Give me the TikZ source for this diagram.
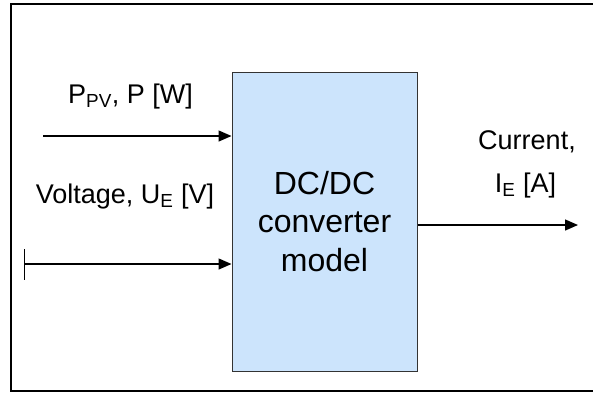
\documentclass[tikz,border=0pt]{standalone}
\usepackage{fontspec}
\setmainfont{Liberation Sans}
\usetikzlibrary{positioning,arrows.meta}
\definecolor{boxblue}{RGB}{204,228,252}

\begin{document}
\begin{tikzpicture}[x=1pt,y=-1pt,
    sig/.style={line width=1.4pt, -{Triangle[length=13pt,width=11pt]}},
    lbl/.style={font=\fontsize{27}{32}\selectfont, inner sep=0pt, anchor=base}]
  \useasboundingbox (0,0) rectangle (593,392);
  \draw[line width=2.2pt] (600,4) -- (11,4) -- (11,391) -- (600,391);

  \node[draw=black!80, fill=boxblue, line width=1pt, minimum width=185pt,
    minimum height=299pt, inner sep=0pt, align=center,
    font=\fontsize{32}{38.5}\selectfont] (conv) at (324.5,221.5)
    {DC/DC\\converter\\model};

  \coordinate (pin) at (43,136);
  \coordinate (uin) at (24,264);
  \coordinate (iout) at (578,225);
  \draw[sig] (pin) -- (pin -| conv.west);
  \draw[sig, {Bar[width=31pt]}-{Triangle[length=13pt,width=11pt]}] (uin) -- (uin -| conv.west);
  \draw[sig] (conv.east |- iout) -- (iout);

  \node[lbl] (plbl) at (130.5,103) {P\textsubscript{PV}, P [W]};
  \node[lbl] (ulbl) at (125,203) {Voltage, U\textsubscript{E} [V]};
  \node[lbl] (ilbl) at (527,149) {Current,};
  \node[lbl] (iunit) at (525.5,192) {I\textsubscript{E} [A]};
\end{tikzpicture}
\end{document}
